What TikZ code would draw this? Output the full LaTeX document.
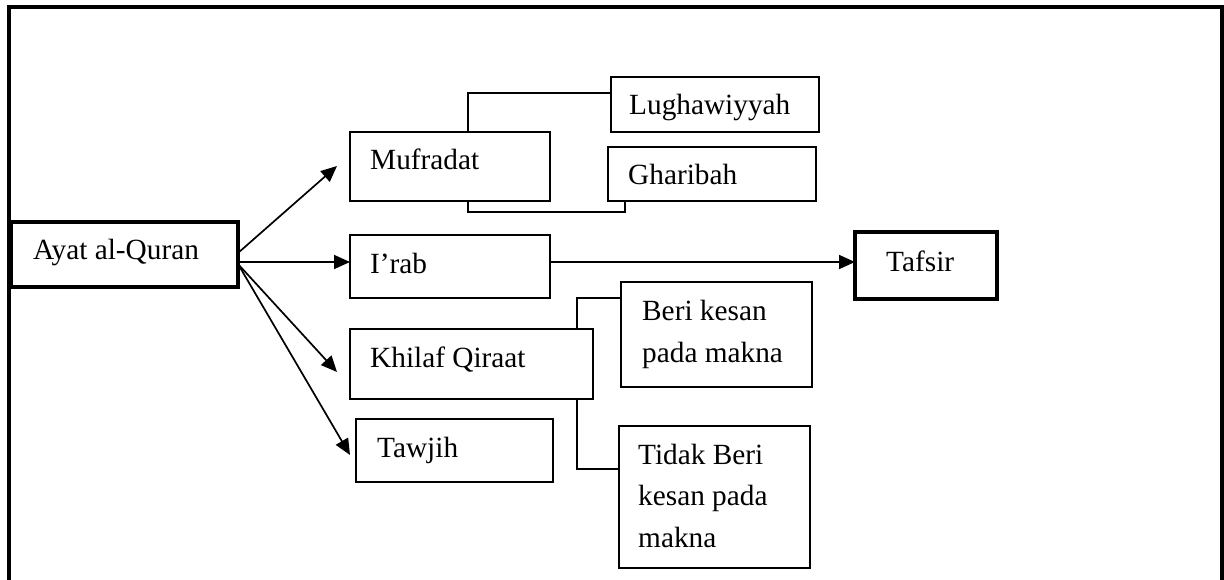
\documentclass[tikz,border=0pt]{standalone}
\usepackage{fontspec}
\setmainfont{Liberation Serif}
\usetikzlibrary{arrows.meta,calc}
\begin{document}
\begin{tikzpicture}[x=1pt,y=-1pt,
  box/.style={draw,line width=1.3pt,inner sep=0pt,outer sep=0pt},
  thickbox/.style={draw,line width=3.6pt,inner sep=0pt,outer sep=0pt},
  txt/.style={inner sep=0pt,anchor=base west,font=\fontsize{29.3}{41.5}\selectfont,align=left},
  conn/.style={line width=1.3pt},
  arr/.style={line width=1.7pt,-{Triangle[length=16pt,width=14pt]}}]
\useasboundingbox (0,0) rectangle (1224,580);
% outer frame
\draw[line width=4pt] (8.5,585) -- (8.5,7) -- (1222,7) -- (1222,585);
% boxes
\node[thickbox,minimum width=227pt,minimum height=65pt] (ayat) at (124.5,254.5) {};
\node[box,minimum width=200pt,minimum height=69pt] (muf) at (450,166.5) {};
\node[box,minimum width=208pt,minimum height=55pt] (lug) at (715,104.5) {};
\node[box,minimum width=208pt,minimum height=54pt] (gha) at (712,174) {};
\node[box,minimum width=200pt,minimum height=63pt] (irab) at (450,266.5) {};
\node[thickbox,minimum width=142pt,minimum height=67pt] (tafsir) at (926,265.5) {};
\node[box,minimum width=243pt,minimum height=70pt] (khi) at (471.5,364) {};
\node[box,minimum width=191pt,minimum height=105pt] (beri) at (716.5,334.5) {};
\node[box,minimum width=197pt,minimum height=63pt] (taw) at (454.5,450.5) {};
\node[box,minimum width=191pt,minimum height=142pt] (tidak) at (714.5,497) {};
% texts
\node[txt] (tayat) at (33,260) {Ayat al-Quran};
\node[txt] (tmuf) at (370,170) {Mufradat};
\node[txt] (tlug) at (629,115) {Lughawiyyah};
\node[txt] (tgha) at (628,185) {Gharibah};
\node[txt] (tirab) at (370,273) {I’rab};
\node[txt] (ttafsir) at (886,272) {Tafsir};
\node[txt] (tkhi) at (370,367) {Khilaf Qiraat};
\node[txt] (tberi) at (642,362) {Beri kesan\\pada makna};
\node[txt] (ttaw) at (377,457) {Tawjih};
\node[txt] (ttidak) at (638,547) {Tidak Beri\\kesan pada\\makna};
% bracket connectors
\draw[conn] ($(muf.north west)+(118,0)$) |- ($(lug.north west)+(0,16)$);
\draw[conn] ($(muf.south west)+(118,0)$) -- ++(0,11) -| ($(gha.south west)+(17,0)$);
\draw[conn] ($(khi.north west)+(227,0)$) |- ($(beri.north west)+(0,16)$);
\draw[conn] ($(khi.south west)+(227,0)$) |- ($(tidak.north west)+(0,43)$);
% arrows
\coordinate (s1) at ($(ayat.east)+(0,-1.5)$);
\coordinate (s2) at ($(ayat.east)+(0,7.5)$);
\coordinate (s3) at ($(ayat.east)+(0,9.5)$);
\coordinate (e1) at (337,166);
\coordinate (e3) at (337,372);
\coordinate (e4) at (350,455);
\coordinate (r1) at ($(irab.east)+(0,-4.5)$);
\draw[arr] (s1) -- (e1);
\draw[arr] (s2) -- (s2 -| irab.west);
\draw[arr] (s3) -- (e3);
\draw[arr] (s3) -- (e4);
\draw[arr] (r1) -- (r1 -| tafsir.west);
\end{tikzpicture}
\end{document}
